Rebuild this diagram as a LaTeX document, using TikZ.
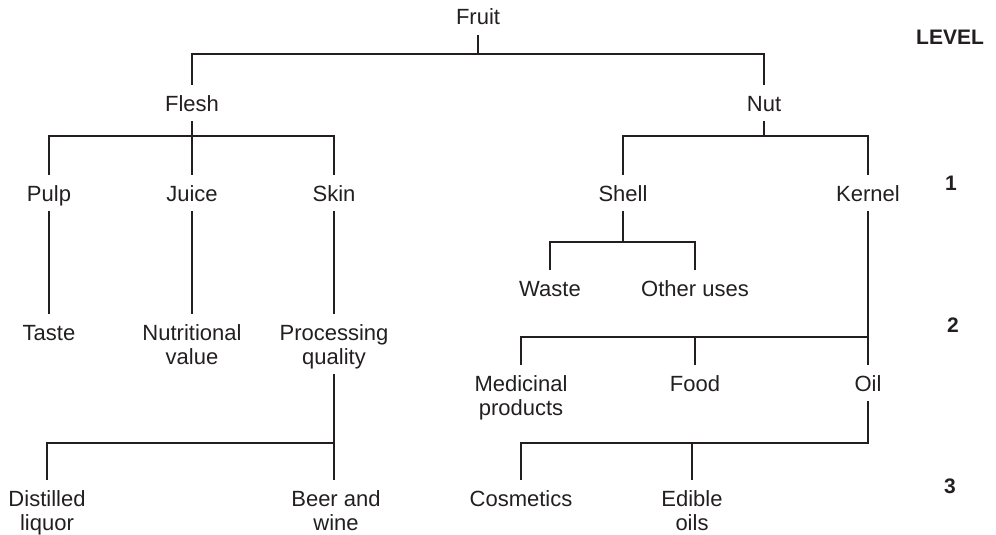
\documentclass[tikz,border=0pt]{standalone}
\usepackage{fontspec}
\setmainfont{Liberation Sans}
\definecolor{ink}{RGB}{35,31,32}
\begin{document}
\begin{tikzpicture}[x=1pt,y=-1pt,
  lbl/.style={font=\fontsize{22}{24}\selectfont, text=ink, align=center,
    inner xsep=0pt, inner ysep=10pt, text height=16pt, text depth=0pt, anchor=base},
  % two-line labels sit on the baseline of their last line
  twoline/.style={lbl, text height=40pt},
  lvl/.style={font=\fontsize{21}{24}\selectfont\bfseries, text=ink, inner sep=0pt, anchor=base},
  link/.style={draw=ink, line width=1.1pt}]
\useasboundingbox (0,0) rectangle (996,535);

% heights of the horizontal branch bars
\coordinate (barA) at (0,54);
\coordinate (barB) at (0,136);
\coordinate (barC) at (0,242);
\coordinate (barD) at (0,337);
\coordinate (barE) at (0,443);

% tree labels
\node[lbl] (fruit) at (478,25) {Fruit};
\node[lbl] (flesh) at (192,111) {Flesh};
\node[lbl] (nut) at (764,111) {Nut};
\node[lbl] (pulp) at (49,201) {Pulp};
\node[lbl] (juice) at (192,201) {Juice};
\node[lbl] (skin) at (334,201) {Skin};
\node[lbl] (shell) at (623,201) {Shell};
\node[lbl] (kernel) at (868,201) {Kernel};
\node[lbl] (waste) at (550,296) {Waste};
\node[lbl] (other) at (695,296) {Other uses};
\node[lbl] (taste) at (49,340) {Taste};
\node[twoline] (nutri) at (192,364) {Nutritional\\value};
\node[twoline] (proc) at (334,364) {Processing\\quality};
\node[twoline] (med) at (521,415) {Medicinal\\products};
\node[lbl] (food) at (695,391) {Food};
\node[lbl] (oil) at (868,391) {Oil};
\node[twoline] (dist) at (47,530) {Distilled\\liquor};
\node[twoline] (beer) at (336,530) {Beer and\\wine};
\node[lbl] (cosm) at (521,506) {Cosmetics};
\node[twoline] (edible) at (692,530) {Edible\\oils};

% level scale
\node[lvl] (level) at (950,45) {LEVEL};
\node[lvl] (lv1) at (951,190) {1};
\node[lvl] (lv2) at (953,332) {2};
\node[lvl] (lv3) at (950,493) {3};

% connectors
\draw[link] (fruit.south) -- (fruit.south |- barA);
\draw[link] (flesh.north) |- (nut.north |- barA) -- (nut.north);

\draw[link] (flesh.south) -- (juice.north);
\draw[link] (pulp.north) |- (skin.north |- barB) -- (skin.north);

\draw[link] (nut.south) -- (nut.south |- barB);
\draw[link] (shell.north) |- (kernel.north |- barB) -- (kernel.north);

\draw[link] (shell.south) -- (shell.south |- barC);
\draw[link] (waste.north) |- (other.north |- barC) -- (other.north);

\draw[link] (pulp.south) -- (taste.north);
\draw[link] (juice.south) -- (nutri.north);
\draw[link] (skin.south) -- (proc.north);

\draw[link] (kernel.south) -- (oil.north);
\draw[link] (med.north) |- (oil.north |- barD);
\draw[link] (food.north) -- (food.north |- barD);

\draw[link] (proc.south) -- (proc.south |- barE);
\draw[link] (dist.north) |- (proc.south |- barE) -- (beer.north -| proc.south);

\draw[link] (oil.south) |- (cosm.north |- barE) -- (cosm.north);
\draw[link] (edible.north) -- (edible.north |- barE);
\end{tikzpicture}
\end{document}
